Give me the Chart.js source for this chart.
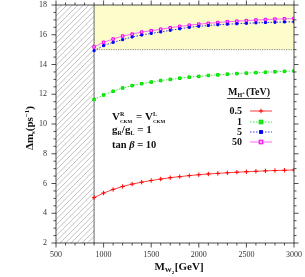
<!DOCTYPE html>
<html>
<head>
<meta charset="utf-8">
<script src="https://cdn.jsdelivr.net/npm/chart.js@4"></script>
<style>
  html, body { margin: 0; padding: 0; background: #fff; }
  #wrap { width: 305px; height: 277px; }
</style>
</head>
<body>
<div id="wrap"><canvas id="chart" width="305" height="277"></canvas></div>
<script>
// W2 mass points (GeV)
const mW2 = [900, 1000, 1100, 1200, 1300, 1400, 1500, 1600, 1700, 1800, 1900,
  2000, 2100, 2200, 2300, 2400, 2500, 2600, 2700, 2800, 2900, 3000];

// Delta m_s (ps^-1) for each charged Higgs mass
const dm05 = [5.05, 5.36, 5.60, 5.80, 5.96, 6.09, 6.20, 6.30, 6.39, 6.46, 6.53,
  6.59, 6.64, 6.68, 6.72, 6.76, 6.79, 6.82, 6.85, 6.87, 6.89, 6.91];
const dm1 = [11.65, 11.95, 12.20, 12.42, 12.58, 12.71, 12.82, 12.92, 13.00, 13.08, 13.15,
  13.20, 13.26, 13.30, 13.35, 13.39, 13.42, 13.45, 13.48, 13.51, 13.54, 13.56];
const dm5 = [14.93, 15.27, 15.49, 15.67, 15.85, 15.98, 16.09, 16.19, 16.30, 16.40, 16.50,
  16.57, 16.62, 16.67, 16.71, 16.74, 16.77, 16.80, 16.82, 16.84, 16.86, 16.87];
const dm50 = [15.18, 15.49, 15.71, 15.91, 16.04, 16.18, 16.27, 16.37, 16.47, 16.56, 16.64,
  16.71, 16.77, 16.82, 16.87, 16.91, 16.95, 16.99, 17.02, 17.05, 17.07, 17.09];

const seriesNames = ["0.5", "1", "5", "50"];

const xTicks = [500, 1000, 1500, 2000, 2500, 3000];
const yTicks = [2, 4, 6, 8, 10, 12, 14, 16, 18];

// excluded region and allowed band
const excludedMax = 900;
const bandLow = 15;

const SERIF = '"Liberation Serif", "DejaVu Serif", serif';

function pts(ys) {
  return mW2.map((x, i) => ({ x: x, y: ys[i] }));
}

const styles = [
  { line: "#ff4040", point: "#ff0000", dash: [], pstyle: "cross", r: 2.2, fill: "#ff0000" },
  { line: "#33ee33", point: "#00dd00", dash: [1.5, 1.5], pstyle: "rect", r: 1.8, fill: "#22ee22" },
  { line: "#3333ff", point: "#0000ff", dash: [1.5, 1.5], pstyle: "rect", r: 1.4, fill: "#0000ff" },
  { line: "#ff66ff", point: "#ee00ee", dash: [], pstyle: "rect", r: 1.8, fill: "#ffaaff" }
];

const allData = [dm05, dm1, dm5, dm50];

const datasets = allData.map((d, i) => ({
  label: seriesNames[i],
  data: pts(d),
  borderColor: styles[i].line,
  borderWidth: 1,
  borderDash: styles[i].dash,
  pointStyle: styles[i].pstyle,
  pointRadius: styles[i].r,
  pointBorderColor: styles[i].point,
  pointBackgroundColor: styles[i].fill,
  pointBorderWidth: 1,
  tension: 0
}));

/* ---------- helpers ---------- */

function font(size, bold) {
  return (bold ? "bold " : "") + size + "px " + SERIF;
}

// draw text made of pieces; stacked sup/sub share one x position
function richText(ctx, parts, x, y) {
  let cx = x;
  parts.forEach(p => {
    if (p.stack) {
      ctx.font = font(p.size, true);
      const w1 = ctx.measureText(p.sup).width;
      ctx.fillText(p.sup, cx, y - 4);
      ctx.font = font(p.size - 1, true);
      const w2 = ctx.measureText(p.sub).width;
      ctx.fillText(p.sub, cx, y + 3);
      cx += Math.max(w1, w2) + 1;
    } else {
      ctx.font = font(p.size, true);
      ctx.fillText(p.t, cx, y + (p.dy || 0));
      cx += ctx.measureText(p.t).width;
    }
  });
  return cx - x;
}

/* ---------- background: hatch + yellow band ---------- */

const backgroundPlugin = {
  id: "background",
  beforeDatasetsDraw(chart) {
    const { ctx, chartArea: a, scales: { x, y } } = chart;
    const xe = x.getPixelForValue(excludedMax);
    const yb = y.getPixelForValue(bandLow);
    const yt = y.getPixelForValue(18);

    ctx.save();
    // allowed band
    ctx.fillStyle = "#fdfccb";
    ctx.fillRect(xe, yt, a.right - xe, yb - yt);
    ctx.strokeStyle = "#555";
    ctx.lineWidth = 0.7;
    ctx.setLineDash([1.2, 1.2]);
    ctx.beginPath();
    ctx.moveTo(xe, yb);
    ctx.lineTo(a.right, yb);
    ctx.stroke();
    ctx.setLineDash([]);

    // hatched excluded region
    ctx.beginPath();
    ctx.rect(a.left, a.top, xe - a.left, a.bottom - a.top);
    ctx.clip();
    ctx.strokeStyle = "#999";
    ctx.lineWidth = 0.6;
    ctx.beginPath();
    const h = a.bottom - a.top;
    for (let s = a.left - h; s < xe + 6; s += 5.5) {
      ctx.moveTo(s, a.bottom);
      ctx.lineTo(s + h, a.top);
    }
    ctx.stroke();
    ctx.restore();

    ctx.save();
    ctx.strokeStyle = "#444";
    ctx.lineWidth = 0.8;
    ctx.beginPath();
    ctx.moveTo(xe, a.top);
    ctx.lineTo(xe, a.bottom);
    ctx.stroke();
    ctx.restore();
  }
};

/* ---------- frame, ticks, labels, legend ---------- */

const framePlugin = {
  id: "frame",
  afterDatasetsDraw(chart) {
    const { ctx, chartArea: a, scales: { x, y } } = chart;
    ctx.save();
    ctx.strokeStyle = "#222";
    ctx.lineWidth = 0.8;
    ctx.strokeRect(a.left, a.top, a.right - a.left, a.bottom - a.top);

    // x ticks: major every 500, minor every 100
    ctx.beginPath();
    for (let v = 500; v <= 3000; v += 100) {
      const px = x.getPixelForValue(v);
      const len = v % 500 === 0 ? 4.5 : 2.5;
      ctx.moveTo(px, a.bottom);
      ctx.lineTo(px, a.bottom + len);
      ctx.moveTo(px, a.top);
      ctx.lineTo(px, a.top - len);
    }
    // y ticks: major every 2, minor every 0.5
    for (let v = 2; v <= 18.001; v += 0.5) {
      const py = y.getPixelForValue(v);
      const len = Math.abs(v % 2) < 0.01 ? 4.5 : 2.5;
      ctx.moveTo(a.left, py);
      ctx.lineTo(a.left - len, py);
      ctx.moveTo(a.right, py);
      ctx.lineTo(a.right + len, py);
    }
    ctx.stroke();

    ctx.fillStyle = "#333";
    ctx.font = font(8, false);
    ctx.textAlign = "center";
    ctx.textBaseline = "middle";
    xTicks.forEach(v => ctx.fillText(String(v), x.getPixelForValue(v), a.bottom + 12));
    ctx.textAlign = "right";
    yTicks.forEach(v => ctx.fillText(String(v), a.left - 9, y.getPixelForValue(v)));

    // axis titles
    ctx.fillStyle = "#111";
    ctx.textAlign = "left";
    ctx.textBaseline = "alphabetic";
    ctx.save();
    ctx.font = font(11, true);
    let w = ctx.measureText("M").width;
    ctx.font = font(7, true);
    w += ctx.measureText("W").width + 3;
    ctx.font = font(11, true);
    w += ctx.measureText("[GeV]").width;
    let sx = (a.left + a.right) / 2 + 4 - w / 2;
    sx += richText(ctx, [{ t: "M", size: 11 }], sx, 270);
    sx += richText(ctx, [{ t: "W", size: 7, dy: 2 }], sx, 270);
    sx += richText(ctx, [{ t: "2", size: 5, dy: 3.5 }], sx, 270);
    richText(ctx, [{ t: "[GeV]", size: 11 }], sx + 0.5, 270);
    ctx.restore();

    ctx.save();
    ctx.translate(33, 128);
    ctx.rotate(-Math.PI / 2);
    const yparts = [
      { t: "Δm", size: 11 }, { t: "s", size: 7, dy: 2 },
      { t: "(ps", size: 11 }, { t: "−1", size: 7, dy: -4 }, { t: ")", size: 11 }
    ];
    let yw = 0;
    yparts.forEach(p => { ctx.font = font(p.size, true); yw += ctx.measureText(p.t).width; });
    richText(ctx, yparts, -yw / 2, 0);
    ctx.restore();

    // annotation block
    ctx.fillStyle = "#111";
    let tx = 112;
    tx += richText(ctx, [{ t: "V", size: 11 }], tx, 120);
    tx += richText(ctx, [{ stack: true, sup: "R", sub: "CKM", size: 6 }], tx, 120);
    tx += richText(ctx, [{ t: " = V", size: 11 }], tx, 120);
    richText(ctx, [{ stack: true, sup: "L", sub: "CKM", size: 6 }], tx, 120);

    tx = 112;
    tx += richText(ctx, [{ t: "g", size: 11 }], tx, 133);
    tx += richText(ctx, [{ t: "R", size: 6, dy: 2 }], tx, 133);
    tx += richText(ctx, [{ t: "/g", size: 11 }], tx, 133);
    tx += richText(ctx, [{ t: "L", size: 6, dy: 2 }], tx, 133);
    richText(ctx, [{ t: " = 1", size: 11 }], tx, 133);

    tx = 112;
    tx += richText(ctx, [{ t: "tan ", size: 10.5 }], tx, 148);
    ctx.save();
    ctx.font = "bold italic 10.5px " + SERIF;
    ctx.fillText("β", tx, 148);
    tx += ctx.measureText("β").width;
    ctx.restore();
    richText(ctx, [{ t: " = 10", size: 10.5 }], tx, 148);

    // legend
    let lx = 228;
    lx += richText(ctx, [{ t: "M", size: 10 }], lx, 95);
    lx += richText(ctx, [{ t: "H", size: 6, dy: 2 }], lx, 95);
    lx += richText(ctx, [{ t: "+", size: 5, dy: -1 }], lx, 95);
    lx += richText(ctx, [{ t: "(TeV)", size: 10 }], lx + 1, 95) + 1;
    ctx.strokeStyle = "#111";
    ctx.lineWidth = 0.8;
    ctx.setLineDash([]);
    ctx.beginPath();
    ctx.moveTo(227, 98.5);
    ctx.lineTo(lx, 98.5);
    ctx.stroke();

    const rows = [111, 122, 132, 142];
    seriesNames.forEach((n, i) => {
      const ry = rows[i];
      ctx.font = font(10, true);
      ctx.textAlign = "right";
      ctx.textBaseline = "middle";
      ctx.fillStyle = "#111";
      ctx.fillText(n, 242, ry);
      const st = styles[i];
      ctx.strokeStyle = st.line;
      ctx.lineWidth = 1;
      ctx.setLineDash(st.dash);
      ctx.beginPath();
      ctx.moveTo(250, ry);
      ctx.lineTo(272, ry);
      ctx.stroke();
      ctx.setLineDash([]);
      ctx.strokeStyle = st.point;
      ctx.fillStyle = st.fill;
      if (st.pstyle === "cross") {
        ctx.beginPath();
        ctx.moveTo(261 - st.r, ry);
        ctx.lineTo(261 + st.r, ry);
        ctx.moveTo(261, ry - st.r);
        ctx.lineTo(261, ry + st.r);
        ctx.stroke();
      } else {
        ctx.fillRect(261 - st.r, ry - st.r, st.r * 2, st.r * 2);
        ctx.strokeRect(261 - st.r, ry - st.r, st.r * 2, st.r * 2);
      }
    });
    ctx.restore();
  }
};

new Chart(document.getElementById("chart"), {
  type: "line",
  data: { datasets: datasets },
  options: {
    responsive: false,
    animation: false,
    layout: { padding: { left: 56, right: 11, top: 3, bottom: 34 } },
    plugins: { legend: { display: false }, tooltip: { enabled: false } },
    scales: {
      x: { type: "linear", min: 500, max: 3000, display: false },
      y: { type: "linear", min: 2, max: 18, display: false }
    }
  },
  plugins: [backgroundPlugin, framePlugin]
});
</script>
</body>
</html>
